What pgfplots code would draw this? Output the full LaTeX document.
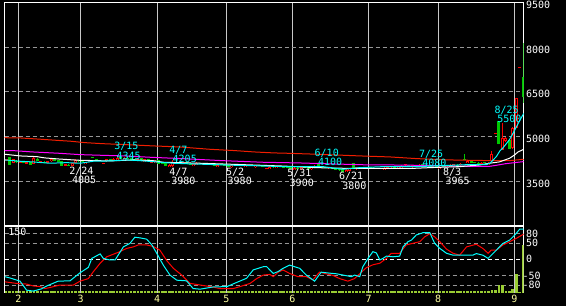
\documentclass[border=0pt]{standalone}
\usepackage{pgfplots}
\pgfplotsset{compat=1.18}
\usepackage{pgfplotstable}
\usepackage{fontspec}
\newfontfamily\monof{DejaVu Sans Mono}
\definecolor{cred}{RGB}{255,0,0}
\definecolor{cmared}{RGB}{240,30,0}
\definecolor{cgreen}{RGB}{0,200,0}
\definecolor{ccyan}{RGB}{0,255,255}
\definecolor{cmag}{RGB}{255,0,255}
\definecolor{cvol}{RGB}{153,204,51}
\definecolor{cmon}{RGB}{255,255,160}
\definecolor{gridv}{RGB}{200,200,200}
\definecolor{gridh}{RGB}{150,150,150}

% up candles (hollow red): k open high low close
\pgfplotstableread{
k o h l c
-2 4120 4250 4100 4230
4 4080 4300 4070 4280
9 4170 4250 4160 4240
15 4010 4110 4005 4100
16 4120 4230 4100 4210
19 4080 4160 4070 4140
25 4170 4250 4160 4240
27 4190 4280 4180 4260
28 4220 4345 4200 4290
30 4190 4300 4180 4270
34 4180 4270 4170 4250
36 4160 4250 4150 4230
39 4110 4200 4100 4180
43 3990 4070 3980 4060
44 4000 4205 3980 4150
50 4010 4090 4000 4070
51 4050 4130 4040 4110
57 3980 4060 3970 4050
61 3970 4060 3960 4040
65 3990 4070 3980 4050
68 3970 4060 3960 4040
72 3920 4010 3910 3990
74 3940 4020 3930 4000
79 3890 3970 3880 3950
81 3900 3990 3890 3970
84 3900 3990 3890 3970
85 3940 4030 3930 4010
94 3820 3910 3810 3890
95 3860 3950 3850 3930
97 3900 3990 3890 3970
105 3890 3970 3880 3950
106 3920 4000 3910 3990
109 3930 4010 3920 3990
110 3950 4030 3940 4020
113 3970 4060 3960 4040
115 3980 4070 3970 4050
121 3920 4010 3910 3990
123 3965 4040 3965 4030
124 3990 4070 3980 4050
125 4010 4080 4000 4070
127 4030 4110 4020 4090
129 4110 4200 4100 4190
133 4050 4130 4040 4110
135 4060 4140 4050 4120
136 4180 4500 4160 4400
139 4560 5450 4550 4950
140 4850 4970 4800 4950
142 4600 5310 4580 5300
143 5300 6300 5280 6300
}\uptab

% small red candles / dashes
\pgfplotstableread{
k o h l c
-4 4200 4260 4180 4230
0 4140 4180 4120 4160
2 4110 4150 4090 4130
6 4130 4170 4110 4150
8 4140 4180 4130 4160
13 4040 4080 4020 4060
20 4150 4200 4130 4180
24 4100 4120 4090 4110
38 4140 4150 4130 4140
47 4110 4140 4090 4120
53 4060 4070 4050 4060
63 4030 4070 4010 4050
71 3920 3930 3910 3920
89 3950 3960 3940 3950
99 3950 3980 3940 3960
100 3960 3970 3950 3960
107 3980 4010 3960 3990
111 4050 4060 4040 4050
119 3990 4000 3980 3990
137 5100 5100 5100 5100
144 7300 7300 7300 7300
}\dojitab

% down candles (green): k open high low close
\pgfplotstableread{
k o h l c
-3 4300 4310 4040 4050
-1 4170 4200 4110 4140
1 4150 4170 4100 4110
3 4140 4150 4050 4060
5 4250 4270 4180 4200
7 4150 4170 4120 4140
10 4230 4240 4180 4200
11 4190 4200 4150 4170
12 4180 4190 4020 4030
14 4050 4070 4010 4030
17 4200 4220 4160 4180
18 4170 4200 4140 4160
21 4320 4330 4290 4300
22 4250 4260 4200 4220
23 4200 4220 4170 4190
26 4240 4260 4190 4200
29 4290 4320 4240 4250
31 4270 4300 4240 4250
32 4260 4270 4210 4220
33 4230 4250 4200 4210
35 4260 4270 4170 4190
37 4220 4240 4180 4200
40 4190 4200 4080 4100
41 4100 4120 4070 4090
42 4120 4130 4010 4020
45 4150 4170 4110 4130
46 4120 4140 4090 4110
48 4120 4130 4070 4090
49 4080 4100 4040 4060
52 4100 4120 4070 4090
54 4080 4100 4050 4070
55 4070 4090 4040 4060
56 4070 4080 4010 4030
58 4060 4080 4030 4050
59 4050 4070 4020 4040
60 4030 4050 3980 4000
62 4040 4060 4010 4030
64 4050 4070 4020 4040
66 4050 4060 4020 4040
67 4040 4060 4010 4030
69 4030 4050 4000 4020
70 4010 4030 3980 4000
73 3990 4010 3960 3980
75 4000 4020 3970 3990
76 3990 4010 3950 3970
77 3970 3990 3940 3960
78 3990 4000 3900 3910
80 3950 3970 3920 3940
82 3970 3980 3930 3950
83 3960 3970 3910 3930
86 4090 4100 3990 4000
87 3990 4010 3950 3970
88 3970 3990 3940 3960
90 3940 3960 3900 3920
91 3920 3940 3880 3900
92 3900 3920 3860 3880
93 3900 3910 3800 3830
96 4100 4110 3930 3940
98 3960 3980 3940 3950
101 3960 3980 3930 3950
102 3950 3970 3930 3940
103 3940 3960 3920 3930
104 3950 3960 3910 3930
108 3990 4010 3960 3970
112 4030 4050 4010 4020
114 4040 4060 4010 4030
116 4060 4080 4020 4040
117 4040 4050 4000 4020
118 4020 4040 3990 4000
120 3990 4010 3970 3980
122 3990 4000 3970 3980
126 4050 4070 4030 4040
128 4230 4420 4200 4210
130 4180 4190 4100 4110
131 4140 4150 4100 4110
132 4110 4130 4080 4100
134 4120 4140 4100 4110
138 5500 5500 4740 4760
141 4880 4900 4570 4590
145 7000 8130 6140 6350
}\dntab

% volume
\pgfplotstableread[row sep=\\]{
k v\\
-4 4\\ -3 4\\ -2 4\\ -1 4\\ 0 4\\ 1 4\\ 2 4\\ 3 4\\ 4 4\\ 5 4\\
6 4\\ 7 4\\ 8 4\\ 9 4\\ 10 4\\ 11 4\\ 12 4\\ 13 4\\ 14 4\\ 15 4\\
16 4\\ 17 4\\ 18 4\\ 19 4\\ 20 4\\ 21 4\\ 22 4\\ 23 4\\ 24 4\\ 25 4\\
26 4\\ 27 4\\ 28 4\\ 29 4\\ 30 4\\ 31 4\\ 32 4\\ 33 4\\ 34 4\\ 35 4\\
36 4\\ 37 4\\ 38 4\\ 39 4\\ 40 4\\ 41 4\\ 42 4\\ 43 4\\ 44 4\\ 45 4\\
46 4\\ 47 4\\ 48 4\\ 49 4\\ 50 4\\ 51 4\\ 52 4\\ 53 4\\ 54 4\\ 55 4\\
56 4\\ 57 4\\ 58 4\\ 59 4\\ 60 4\\ 61 4\\ 62 4\\ 63 4\\ 64 4\\ 65 4\\
66 4\\ 67 4\\ 68 4\\ 69 4\\ 70 4\\ 71 4\\ 72 4\\ 73 4\\ 74 4\\ 75 4\\
76 4\\ 77 4\\ 78 4\\ 79 4\\ 80 4\\ 81 4\\ 82 4\\ 83 4\\ 84 4\\ 85 4\\
86 4\\ 87 4\\ 88 4\\ 89 4\\ 90 4\\ 91 4\\ 92 4\\ 93 4\\ 94 4\\ 95 4\\
96 4\\ 97 4\\ 98 4\\ 99 4\\ 100 4\\ 101 4\\ 102 4\\ 103 4\\ 104 4\\ 105 4\\
106 4\\ 107 4\\ 108 4\\ 109 4\\ 110 4\\ 111 4\\ 112 4\\ 113 4\\ 114 4\\ 115 4\\
116 4\\ 117 4\\ 118 4\\ 119 4\\ 120 4\\ 121 4\\ 122 4\\ 123 4\\ 124 4\\ 125 4\\
126 4\\ 127 4\\ 128 4\\ 129 4\\ 130 4\\ 131 4\\ 132 4\\ 133 4\\ 134 4\\ 135 4\\
136 5\\ 137 7\\ 138 17\\ 139 17\\ 140 4\\ 141 4\\ 142 8\\ 143 42\\ 144 2\\ 145 107\\
}\voltab

\begin{document}
\begin{tikzpicture}[lab/.style={font=\monof\fontsize{10bp}{12bp}\selectfont, inner sep=0pt, anchor=north west}]
\useasboundingbox (0,0) rectangle (566bp,306bp);
\fill[black] (0,0) rectangle (566bp,306bp);

% ---------------- upper price panel ----------------
\begin{axis}[
  at={(4.7bp,80bp)}, anchor=south west, scale only axis,
  width=519bp, height=223.7bp,
  xmin=-4.41, xmax=145.16, ymin=2000, ymax=9500,
  axis line style={white, line width=1bp},
  xtick={-0.5,17.5,39.5,59.5,78.5,100.5,120.5,142.5},
  ytick={3500,5000,6500,8000},
  xticklabels={}, yticklabels={},
  major tick length=0pt, tick style={draw=none},
  xmajorgrids, ymajorgrids,
  x grid style={gridv, line width=1bp},
  y grid style={gridh, line width=1bp, dash pattern=on 4bp off 3bp},
  clip mode=individual,
]
% wicks
\addplot[cgreen, line width=1bp, mark=none, quiver={u=0, v=\thisrow{h}-\thisrow{l}}]
  table[x=k, y=l] {\dntab};
\addplot[cred, line width=1bp, mark=none, quiver={u=0, v=\thisrow{h}-\thisrow{l}}]
  table[x=k, y=l] {\uptab};
\addplot[cred, line width=1bp, mark=none, quiver={u=0, v=\thisrow{h}-\thisrow{l}}]
  table[x=k, y=l] {\dojitab};
% bodies
\addplot[cgreen, line width=3bp, mark=none, quiver={u=0, v=\thisrow{o}-\thisrow{c}+20}]
  table[x=k, y expr=\thisrow{c}-10] {\dntab};
\addplot[cred, line width=3bp, mark=none, quiver={u=0, v=\thisrow{c}-\thisrow{o}+36}]
  table[x=k, y expr=\thisrow{o}-18] {\dojitab};
\addplot[cred, line width=3bp, mark=none, quiver={u=0, v=\thisrow{c}-\thisrow{o}}]
  table[x=k, y=o] {\uptab};
\addplot[black, line width=1bp, mark=none, quiver={u=0, v=\thisrow{c}-\thisrow{o}-68}]
  table[x=k, y expr=\thisrow{o}+34] {\uptab};

% moving averages
\addplot[cmared, line width=1bp, mark=none] coordinates {
(-4.4,4960) (0,4953) (5.8,4910) (10.1,4876) (14.6,4842) (18.7,4795) (23.5,4762)
(30.5,4728) (38.4,4685) (45.9,4651) (54.5,4574) (62,4527) (67.5,4483) (73.2,4450)
(76.7,4440) (85.6,4406) (98.1,4349) (106.5,4316) (114.2,4260) (123.8,4215)
(136.3,4190) (141,4190) (145.2,4238)};
\addplot[cmag, line width=1bp, mark=none] coordinates {
(-4.4,4527) (-1.9,4527) (3.6,4483) (11,4440) (17.3,4393) (22.8,4373) (30.2,4349)
(37.4,4305) (46.5,4260) (58.6,4190) (70.1,4137) (80.6,4114) (90.2,4080) (100,4050)
(106.6,4047) (118,4030) (127,4005) (135,3995) (137,4030) (140,4090) (145.2,4160)};
\addplot[white, line width=1bp, mark=none] coordinates {
(-4.4,4406) (0,4349) (4.8,4326) (7.2,4282) (11,4248) (16.8,4205) (25.9,4181)
(32.7,4215) (38.4,4190) (41.3,4137) (51.9,4104) (63.4,4060) (75.8,4010) (85.4,3957)
(93,3936) (114,3936) (118.1,3957) (126.7,3990) (132.5,4047) (135.3,4104)
(138.2,4150) (141.1,4272) (142.5,4380) (143.5,4480) (145.2,4574)};
\addplot[ccyan, line width=1bp, mark=none] coordinates {
(-4.4,4215) (0,4171) (3.8,4148) (8.6,4104) (13.4,4124) (17.3,4104) (21.1,4171)
(25.9,4181) (30.7,4215) (34.6,4190) (39.4,4148) (44.2,4104) (49.9,4080) (55.7,4060)
(61.5,4037) (67.2,4024) (75.8,3990) (81.6,3990) (87.3,3990) (93.1,3903) (97.9,3957)
(104.6,3990) (114.2,3990) (121.9,4024) (129.6,4060) (134.4,4060) (135.5,4110)
(137.3,4330) (138.3,4520) (139.2,4620) (141.1,4900) (142.1,5111) (144,5534) (145.2,5782)};

% high / low annotations
\node[lab, text=ccyan] at (axis cs:27.15,4826) {3/15};
\node[lab, text=ccyan] at (axis cs:27.8,4491) {4345};
\node[lab, text=ccyan] at (axis cs:43.0,4682) {4/7};
\node[lab, text=ccyan] at (axis cs:43.95,4380) {4205};
\node[lab, text=white] at (axis cs:14.18,3988) {2/24};
\node[lab, text=white] at (axis cs:14.96,3676) {4005};
\node[lab, text=white] at (axis cs:43.0,3955) {4/7};
\node[lab, text=white] at (axis cs:43.57,3643) {3980};
\node[lab, text=white] at (axis cs:59.34,3955) {5/2};
\node[lab, text=white] at (axis cs:59.8,3643) {3980};
\node[lab, text=white] at (axis cs:77.0,3901) {5/31};
\node[lab, text=white] at (axis cs:77.67,3576) {3900};
\node[lab, text=ccyan] at (axis cs:84.87,4582) {6/10};
\node[lab, text=ccyan] at (axis cs:85.85,4290) {4100};
\node[lab, text=white] at (axis cs:91.9,3820) {6/21};
\node[lab, text=white] at (axis cs:92.85,3485) {3800};
\node[lab, text=ccyan] at (axis cs:114.96,4558) {7/25};
\node[lab, text=ccyan] at (axis cs:115.9,4246) {4080};
\node[lab, text=white] at (axis cs:121.87,3955) {8/3};
\node[lab, text=white] at (axis cs:122.6,3643) {3965};
\node[lab, text=ccyan] at (axis cs:136.74,6023) {8/25};
\node[lab, text=ccyan] at (axis cs:137.5,5721) {5500};
% price scale
\node[lab, text=white, yshift=1.6bp] at (axis cs:145.79,9500) {9500};
\node[lab, text=white, yshift=1.6bp] at (axis cs:145.79,8000) {8000};
\node[lab, text=white, yshift=1.6bp] at (axis cs:145.79,6500) {6500};
\node[lab, text=white, yshift=1.6bp] at (axis cs:145.79,5000) {5000};
\node[lab, text=white, yshift=1.6bp] at (axis cs:145.79,3500) {3500};
\end{axis}

% ---------------- lower oscillator / volume panel ----------------
\begin{axis}[
  at={(4.7bp,13.3bp)}, anchor=south west, scale only axis,
  width=519bp, height=66.7bp,
  xmin=-4.41, xmax=145.16, ymin=-104, ymax=104,
  axis line style={draw=none},
  xtick={-0.5,17.5,39.5,59.5,78.5,100.5,120.5,142.5},
  ytick={-80,-50,50,80},
  xticklabels={}, yticklabels={},
  major tick length=0pt, tick style={draw=none},
  xmajorgrids, ymajorgrids,
  x grid style={gridv, line width=1bp},
  y grid style={gridh, line width=1bp, dash pattern=on 4bp off 3bp},
  clip mode=individual,
]
\draw[white, line width=1bp, dash pattern=on 4bp off 3bp] (axis cs:-4.41,0) -- (axis cs:145.16,0);
\draw[white, line width=1bp] (rel axis cs:0,0) -- (rel axis cs:0,1) -- (rel axis cs:1,1) -- (rel axis cs:1,0);
% volume bars
\addplot[cvol, line width=2.6bp, mark=none, quiver={u=0, v=\thisrow{v}*1.3867}]
  table[x=k, y expr=-104] {\voltab};
% oscillators
\addplot[cred, line width=1bp, mark=none] coordinates {
(-4.4,-70) (-1,-75) (1.9,-77) (3.8,-83) (5.8,-85) (7.2,-91) (8.6,-88) (11.5,-80)
(15.4,-80) (17.3,-68) (19.7,-60) (21.1,-39) (23.1,-12) (25,8) (26.9,16) (28.8,24)
(30.7,34) (32.7,39) (34.1,45) (36.5,45) (38.4,40) (40.3,29) (42.3,-4) (44.2,-28)
(46.6,-49) (49,-75) (51.9,-80) (54.8,-85) (57.6,-91) (61.5,-91) (63.4,-85) (66.3,-75)
(68.2,-60) (70.1,-49) (72,-47) (73,-54) (74.4,-40) (75.8,-33) (77.7,-44) (80.1,-54)
(82.5,-54) (84.4,-64) (86.3,-40) (88.2,-45) (90.2,-50) (92.1,-60) (94.5,-68) (96.4,-60)
(97.9,-45) (99.8,-26) (101.7,-17) (103.7,-12) (105.6,3) (107,19) (109.4,19) (111.3,45)
(113.2,50) (115.2,55) (116.6,70) (118.1,80) (119.5,70) (121,55) (122.9,32) (124.8,19)
(126.7,13) (128.7,39) (131.5,47) (133.4,34) (134.9,19) (135.8,29) (137.3,29) (139.2,45)
(141.1,55) (143.1,66) (145.2,79)};
\addplot[ccyan, line width=1bp, mark=none] coordinates {
(-4.4,-54) (-2.9,-58) (0,-68) (1.9,-96) (3.8,-99) (6.2,-92) (7.7,-83) (11,-68)
(14.4,-67) (17.3,-42) (19.7,-25) (20.7,3) (23.1,17) (24,3) (25.9,-2) (27.4,-2)
(29.8,39) (31.7,50) (33.1,69) (34.6,67) (36.5,63) (38,45) (39.4,19) (41.3,-18)
(43.2,-49) (45.2,-65) (48,-67) (49.9,-91) (51.9,-93) (55.7,-86) (59.6,-85) (62,-74)
(65.3,-59) (67.2,-33) (70.1,-23) (71.1,-23) (73,-44) (74.4,-38) (75.8,-28) (77.7,-18)
(80.6,-28) (82.5,-49) (84.9,-68) (86.8,-40) (89.2,-43) (91.2,-45) (93.1,-49) (95.5,-54)
(96.4,-49) (97.9,-54) (98.8,-23) (100.3,3) (101.7,24) (102.7,20) (103.7,-2) (104.6,3)
(105.6,10) (107.5,8) (109.4,10) (110.4,39) (111.8,55) (112.8,60) (114.2,76) (116.1,83)
(118.1,83) (119.5,50) (121,34) (122.9,19) (124.8,13) (127.7,13) (130.5,13) (131.5,18)
(133.4,13) (134.9,3) (137.3,29) (139.2,50) (141.1,60) (142.6,76) (144,94) (145.2,94)};
% labels
\node[lab, text=white] at (axis cs:-3.4,98.7) {150};
\node[lab, text=white, anchor=west] at (axis cs:145.79,80) {80};
\node[lab, text=white, anchor=west] at (axis cs:145.79,50) {50};
\node[lab, text=white, anchor=west] at (axis cs:145.79,0) {0};
\node[lab, text=white, anchor=west] at (axis cs:145.79,-50) {\kern-3.5bp-50};
\node[lab, text=white, anchor=west] at (axis cs:145.79,-80) {\kern-3.5bp-80};
\node[lab, text=cmon, anchor=north, yshift=-2bp] at (axis cs:-0.5,-104) {2};
\node[lab, text=cmon, anchor=north, yshift=-2bp] at (axis cs:17.5,-104) {3};
\node[lab, text=cmon, anchor=north, yshift=-2bp] at (axis cs:39.5,-104) {4};
\node[lab, text=cmon, anchor=north, yshift=-2bp] at (axis cs:59.5,-104) {5};
\node[lab, text=cmon, anchor=north, yshift=-2bp] at (axis cs:78.5,-104) {6};
\node[lab, text=cmon, anchor=north, yshift=-2bp] at (axis cs:100.5,-104) {7};
\node[lab, text=cmon, anchor=north, yshift=-2bp] at (axis cs:120.5,-104) {8};
\node[lab, text=cmon, anchor=north, yshift=-2bp] at (axis cs:142.5,-104) {9};
\end{axis}
\end{tikzpicture}
\end{document}
